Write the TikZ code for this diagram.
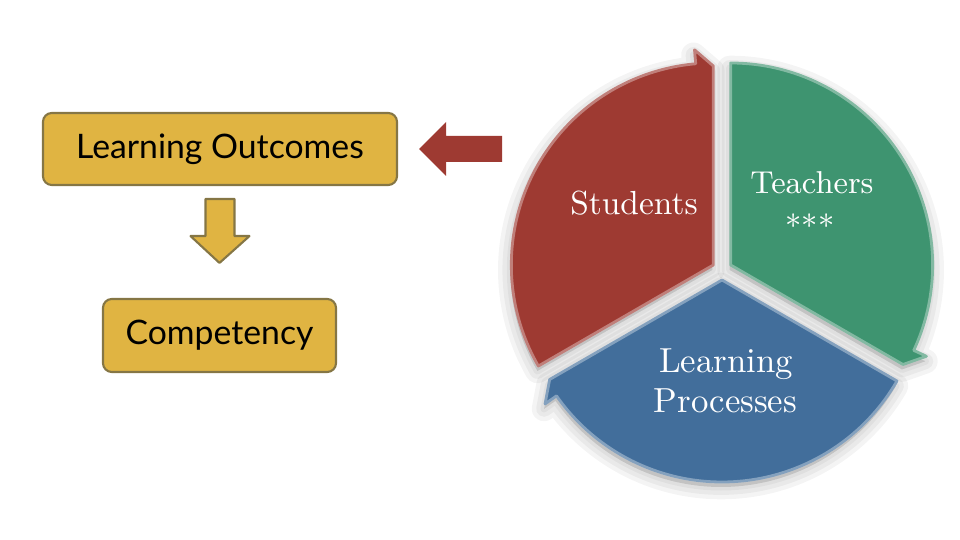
\documentclass[tikz,border=0pt]{standalone}
\usepackage{fontspec}
\newfontfamily\boxfont{Lato}
\usetikzlibrary{calc}
\usetikzlibrary{positioning}
\definecolor{gold}{HTML}{E0B442}
\definecolor{goldline}{HTML}{857645}
\definecolor{brick}{HTML}{9E3A32}
\definecolor{sea}{HTML}{3E9470}
\definecolor{steel}{HTML}{426E9B}
\tikzset{
  goalbox/.style={draw=goldline, fill=gold, rounded corners=2.5pt, line width=0.6pt,
    inner sep=0pt, font=\boxfont\fontsize{9.6}{11}\selectfont},
  pielabel/.style={text=white, anchor=base, inner sep=0pt},
  slice/.style 2 args={insert path={(0,0) -- (#1:2.02)
    arc[start angle=#1, end angle={#2+5}, radius=2.02] -- ({#2+5}:2.16) -- (#2:1.99) -- cycle}},
}

\begin{document}
\begin{tikzpicture}[line join=round]
    \useasboundingbox (0,0) rectangle (9.6,5.4);
    \node[goalbox, minimum width=3.54cm, minimum height=0.72cm] at (2.20,3.91) (outcomes) {Learning Outcomes};
    \node[goalbox, minimum width=2.33cm, minimum height=0.73cm] at (2.195,2.045) (competency) {Competency};
    % down arrow
    \coordinate (dtop) at ($(outcomes.south)+(0,-0.13)$);
    \coordinate (dtip) at ($(competency.north)+(0,0.35)$);
    \draw[goldline, fill=gold, line width=0.6pt] ($(dtop)+(-0.145,0)$) -- ($(dtop)+(0.145,0)$)
        -- ($(dtop)+(0.145,-0.37)$) -- ($(dtop)+(0.295,-0.37)$) -- (dtip)
        -- ($(dtop)+(-0.295,-0.37)$) -- ($(dtop)+(-0.145,-0.37)$) -- cycle;
    % red arrow
    \coordinate (rtip) at ($(outcomes.east)+(0.21,0)$);
    \coordinate (rtail) at ($(rtip)+(0.83,0)$);
    \fill[brick] ($(rtail)+(0,0.13)$) -- ($(rtip)+(0.27,0.13)$) -- ($(rtip)+(0.27,0.27)$) -- (rtip)
        -- ($(rtip)+(0.27,-0.27)$) -- ($(rtip)+(0.27,-0.13)$) -- ($(rtail)+(0,-0.13)$) -- cycle;
    % pie, shadows first
    \coordinate (hub) at (7.22,2.70);
    \foreach \a/\b in {210/90, 90/-30, 330/210}
        \foreach \w in {7,4.5,2}
            \filldraw[black, opacity=0.045, line width=\w pt, shift={($(hub)+({(\a+\b)/2}:0.10)+(-0.01,-0.05)$)}]
                [slice={\a}{\b}];
    \foreach \a/\b/\col in {210/90/brick, 90/-30/sea, 330/210/steel}
        \filldraw[fill=\col, draw=\col!65!white, line width=0.8pt, shift={($(hub)+({(\a+\b)/2}:0.10)$)}]
            [slice={\a}{\b}];
    \node[pielabel, font=\fontsize{9.5}{12}\selectfont] at (6.34,3.25) (students) {Students};
    \node[pielabel, font=\fontsize{9.0}{12}\selectfont] at (8.12,3.46) (teachers) {Teachers};
    \node[pielabel, font=\fontsize{9.0}{12}\selectfont] at (8.10,3.11) (stars) {${\ast}{\ast}{\ast}$};
    \node[pielabel, font=\fontsize{9.9}{12}\selectfont] at (7.26,1.67) (learning) {Learning};
    \node[pielabel, font=\fontsize{9.9}{12}\selectfont] at (7.255,1.27) (processes) {Processes};
\end{tikzpicture}
\end{document}
